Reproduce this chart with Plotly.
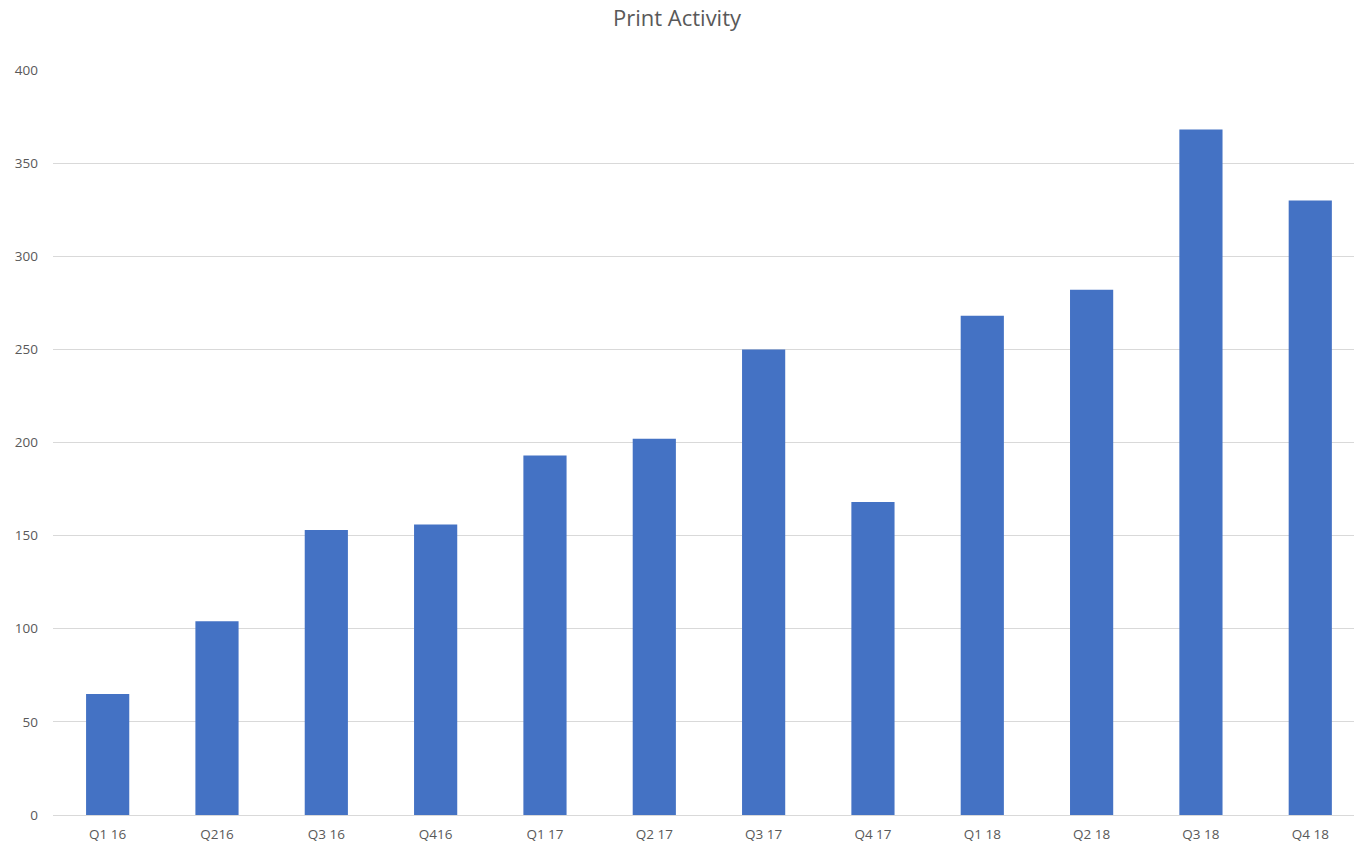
import plotly.graph_objects as go

# Quarterly print activity
quarters = ["Q1 16", "Q216", "Q3 16", "Q416", "Q1 17", "Q2 17",
            "Q3 17", "Q4 17", "Q1 18", "Q2 18", "Q3 18", "Q4 18"]
prints = [65, 104, 153, 156, 193, 202, 250, 168, 268, 282, 368, 330]
y_ticks = [0, 50, 100, 150, 200, 250, 300, 350, 400]

label_color = "#595959"
font_family = "Open Sans, Noto Sans, sans-serif"

fig = go.Figure(
    go.Bar(
        x=list(range(len(quarters))),
        y=prints,
        marker=dict(color="#4472C4", line=dict(width=0)),
        width=0.395,
        hoverinfo="x+y",
    )
)

fig.update_layout(
    width=1354,
    height=848,
    margin=dict(l=53, r=0, t=70, b=33),
    paper_bgcolor="white",
    plot_bgcolor="white",
    showlegend=False,
    title=dict(
        text="Print Activity",
        x=0.5,
        xanchor="center",
        y=0.978,
        yanchor="middle",
        font=dict(family=font_family, size=22, color=label_color),
    ),
    font=dict(family=font_family, size=13, color=label_color),
)

fig.update_xaxes(
    range=[-0.5, 11.4],
    tickmode="array",
    tickvals=list(range(len(quarters))),
    ticktext=quarters,
    showgrid=False,
    zeroline=False,
    showline=False,
    ticks="",
    ticklabelstandoff=9,
    tickfont=dict(size=13.5, color=label_color),
)

fig.update_yaxes(
    range=[0, 400],
    tickmode="array",
    tickvals=y_ticks,
    showgrid=True,
    gridcolor="#d9d9d9",
    gridwidth=1,
    zeroline=True,
    zerolinecolor="#d9d9d9",
    zerolinewidth=1,
    showline=False,
    ticks="",
    ticklabelstandoff=14,
    tickfont=dict(size=13.5, color=label_color),
)

fig.write_html("out.html")
